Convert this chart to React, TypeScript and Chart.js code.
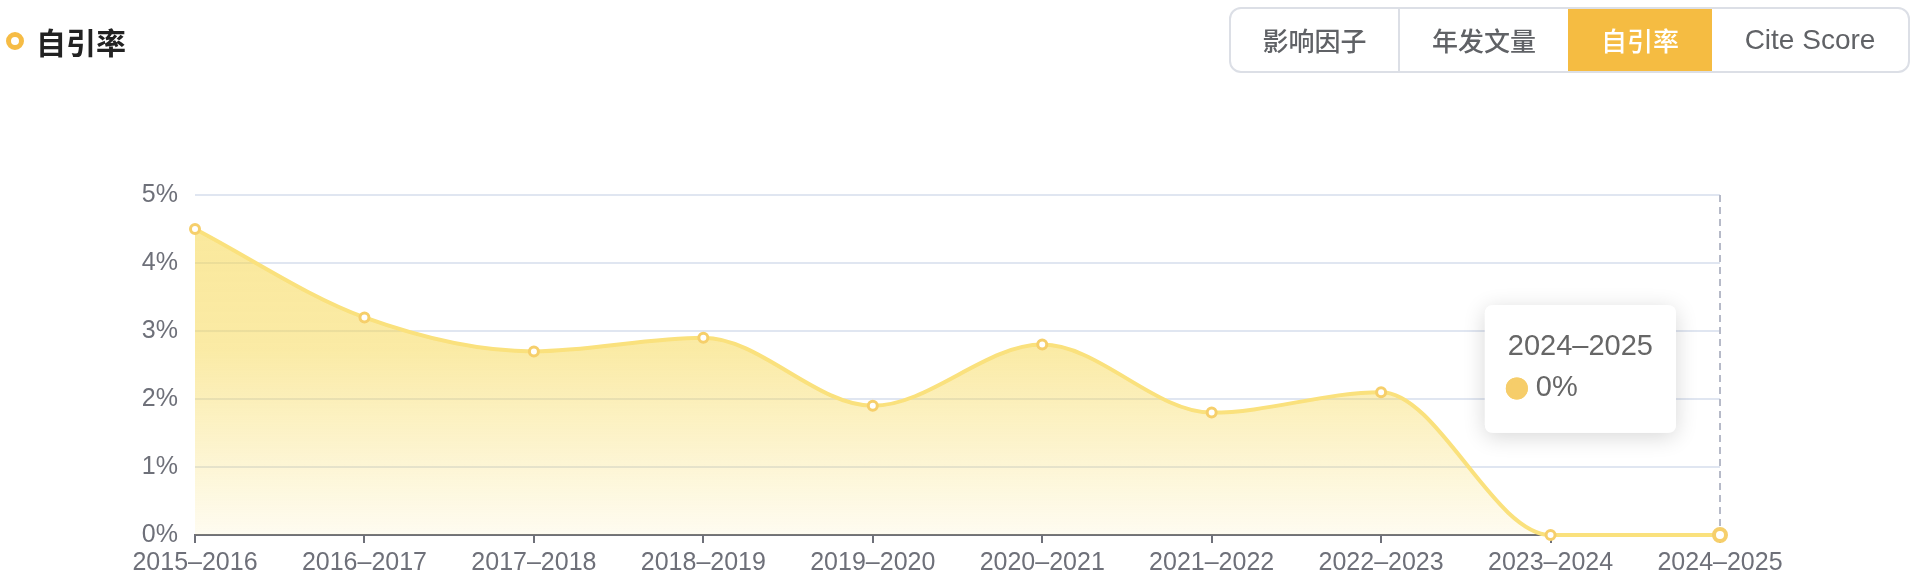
import React, { useEffect, useRef } from 'react';
import { Chart, registerables, Tooltip } from 'chart.js';

Chart.register(...registerables);

// ---- data ----
const categories = [
  '2015–2016',
  '2016–2017',
  '2017–2018',
  '2018–2019',
  '2019–2020',
  '2020–2021',
  '2021–2022',
  '2022–2023',
  '2023–2024',
  '2024–2025',
];
const selfCitationRate = [4.5, 3.2, 2.7, 2.9, 1.9, 2.8, 1.8, 2.1, 0, 0];
const yMin = 0;
const yMax = 5;
const yStep = 1;
const tabs = ['影响因子', '年发文量', '自引率', 'Cite Score'];
const activeTab = '自引率';
const pageTitle = '自引率';
const hoveredIndex = 9;

const LATIN = '"Liberation Sans", Arial, Helvetica, sans-serif';
const CJK = '"Noto Sans", "Noto Sans CJK SC", sans-serif';

(Tooltip.positioners as any).besidePoint = function (elements: any[]) {
  if (!elements.length) return false;
  const el = elements[0].element;
  const area = this.chart.chartArea;
  return { x: el.x, y: (area.top + area.bottom) / 2 + 4, xAlign: 'right', yAlign: 'center' };
};

const crosshairPlugin = {
  id: 'crosshair',
  beforeDatasetsDraw(chart: any) {
    const active = chart.getActiveElements();
    if (!active.length) return;
    const x = active[0].element.x;
    const { top, bottom } = chart.chartArea;
    const ctx = chart.ctx;
    ctx.save();
    ctx.strokeStyle = '#b6bac8';
    ctx.lineWidth = 2;
    ctx.setLineDash([7, 5]);
    ctx.beginPath();
    ctx.moveTo(x, top);
    ctx.lineTo(x, bottom);
    ctx.stroke();
    ctx.restore();
  },
};

const tooltipShadowPlugin = {
  id: 'tooltipShadow',
  beforeTooltipDraw(chart: any, args: any) {
    const tt = args.tooltip;
    if (!tt || !tt.opacity) return;
    const ctx = chart.ctx;
    ctx.save();
    ctx.shadowColor = 'rgba(0,0,0,0.16)';
    ctx.shadowBlur = 22;
    ctx.shadowOffsetX = 0;
    ctx.shadowOffsetY = 4;
    ctx.fillStyle = '#ffffff';
    ctx.beginPath();
    (ctx as any).roundRect(tt.x, tt.y, tt.width, tt.height, 8);
    ctx.fill();
    ctx.restore();
  },
};

function ChartCanvas() {
  const ref = useRef<HTMLCanvasElement | null>(null);
  useEffect(() => {
    if (!ref.current) return;
    Chart.defaults.font.family = LATIN;
    const chart = new Chart(ref.current, {
      type: 'line',
      data: {
        labels: categories,
        datasets: [
          {
            data: selfCitationRate,
            borderColor: '#fae17d',
            borderWidth: 4,
            cubicInterpolationMode: 'monotone',
            fill: 'origin',
            clip: false as any,
            backgroundColor: (ctx: any) => {
              const area = ctx.chart.chartArea;
              if (!area) return 'rgba(246,214,75,0.5)';
              const g = ctx.chart.ctx.createLinearGradient(0, area.top, 0, area.bottom);
              g.addColorStop(0, 'rgba(246,214,75,0.56)');
              g.addColorStop(0.45, 'rgba(246,214,75,0.5)');
              g.addColorStop(1, 'rgba(246,214,75,0.08)');
              return g;
            },
            pointRadius: 4.5,
            pointBorderWidth: 3,
            pointBorderColor: '#f6cf6b',
            pointBackgroundColor: '#ffffff',
            pointHoverRadius: 6,
            pointHoverBorderWidth: 4,
            pointHoverBorderColor: '#f6cf6b',
            pointHoverBackgroundColor: '#ffffff',
          },
        ],
      },
      options: {
        responsive: false,
        animation: false,
        events: [],
        layout: { padding: { left: 115, right: 196, top: 195, bottom: 0 } },
        plugins: {
          legend: { display: false },
          title: { display: false },
          tooltip: {
            enabled: true,
            position: 'besidePoint' as any,
            xAlign: 'right',
            yAlign: 'center',
            backgroundColor: '#ffffff',
            borderWidth: 0,
            cornerRadius: 8,
            caretSize: 0,
            caretPadding: 44,
            padding: { top: 24, bottom: 27, left: 23, right: 23 },
            titleFont: { family: LATIN, size: 29, weight: 'normal' },
            bodyFont: { family: LATIN, size: 29, weight: 'normal' },
            titleColor: '#666666',
            bodyColor: '#666666',
            titleMarginBottom: 7,
            displayColors: true,
            usePointStyle: true,
            boxWidth: 18,
            boxHeight: 18,
            boxPadding: 8,
            multiKeyBackground: '#f6cd6a',
            callbacks: {
              title: (items: any[]) => items[0].label,
              label: (item: any) => `${item.parsed.y}%`,
              labelColor: () => ({ borderColor: '#f6cd6a', backgroundColor: '#f6cd6a', borderWidth: 0 }) as any,
              labelPointStyle: () => ({ pointStyle: 'circle', rotation: 0 }),
            },
          },
        },
        scales: {
          x: {
            type: 'category',
            offset: false,
            grid: {
              display: true,
              drawOnChartArea: false,
              drawTicks: true,
              tickLength: 8,
              tickColor: '#6e7079',
              tickWidth: 2,
              lineWidth: 2,
              color: '#6e7079',
            },
            border: { display: true, color: '#6e7079', width: 2 },
            ticks: {
              color: '#6e7079',
              font: { family: LATIN, size: 25 },
              padding: 5,
              maxRotation: 0,
              minRotation: 0,
              autoSkip: false,
            },
            afterFit: (scale: any) => {
              scale.height = 47;
            },
          },
          y: {
            min: yMin,
            max: yMax,
            grid: {
              drawTicks: false,
              lineWidth: 2,
              color: (ctx: any) => (ctx.tick && ctx.tick.value === 0 ? 'rgba(0,0,0,0)' : '#e0e6f1'),
            },
            border: { display: false },
            ticks: {
              stepSize: yStep,
              color: '#6e7079',
              font: { family: LATIN, size: 25 },
              padding: 17,
              callback: (v: any) => `${v}%`,
            },
            afterFit: (scale: any) => {
              scale.width = 80;
            },
          },
        },
      },
      plugins: [crosshairPlugin, tooltipShadowPlugin],
    });
    const active = [{ datasetIndex: 0, index: hoveredIndex }];
    chart.setActiveElements(active);
    const el: any = chart.getDatasetMeta(0).data[hoveredIndex];
    chart.tooltip?.setActiveElements(active, { x: el.x, y: el.y });
    chart.update();
    return () => chart.destroy();
  }, []);
  return <canvas ref={ref} width={1916} height={582} style={{ position: 'absolute', left: 0, top: 0 }} />;
}

export default function App() {
  const segWidths = [169, 168, 144, 196];
  return (
    <div style={{ position: 'absolute', left: 0, top: 0, width: 1916, height: 582, background: '#fff', overflow: 'hidden' }}>
      <ChartCanvas />
      <div style={{ position: 'absolute', left: 6, top: 1, height: 80, display: 'flex', alignItems: 'center' }}>
        <div
          style={{
            width: 18,
            height: 18,
            borderRadius: '50%',
            border: '5px solid #f6bc45',
            boxSizing: 'border-box',
            background: '#fff',
          }}
        />
        <div
          style={{
            marginLeft: 12,
            fontFamily: '"Noto Sans CJK SC", sans-serif',
            fontWeight: 700,
            fontSize: 30,
            color: '#222',
            lineHeight: '30px',
          }}
        >
          {pageTitle}
        </div>
      </div>
      <div
        style={{
          position: 'absolute',
          left: 1229,
          top: 7,
          width: 681,
          height: 66,
          border: '2px solid #dcdfe6',
          borderRadius: 12,
          boxSizing: 'border-box',
          overflow: 'hidden',
          display: 'flex',
          background: '#fff',
        }}
      >
        {tabs.map((t, i) => {
          const active = t === activeTab;
          const nextActive = tabs[i + 1] === activeTab;
          const showDivider = i < tabs.length - 1 && !active && !nextActive;
          const latin = /^[A-Za-z ]+$/.test(t);
          return (
            <div
              key={t}
              style={{
                width: segWidths[i],
                boxSizing: 'border-box',
                height: '100%',
                display: 'flex',
                alignItems: 'center',
                justifyContent: 'center',
                background: active ? '#f5bc42' : 'transparent',
                color: active ? '#ffffff' : '#606266',
                fontFamily: latin ? LATIN : CJK,
                fontWeight: latin ? 400 : 500,
                fontSize: latin ? 28 : 26,
                borderRight: showDivider ? '2px solid #dcdfe6' : 'none',
              }}
            >
              {t}
            </div>
          );
        })}
      </div>
    </div>
  );
}
